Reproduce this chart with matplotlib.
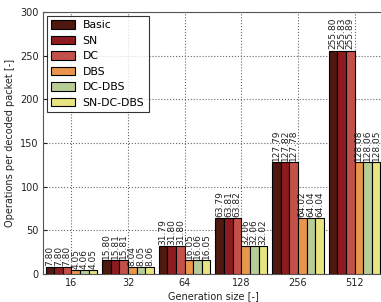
import matplotlib
matplotlib.use("Agg")
import matplotlib.pyplot as plt
import numpy as np

categories = ["16", "32", "64", "128", "256", "512"]
series = ["Basic", "SN", "DC", "DBS", "DC-DBS", "SN-DC-DBS"]
basic = [7.80, 15.80, 31.79, 63.79, 127.79, 255.80]
sn = [7.80, 15.81, 31.80, 63.81, 127.82, 255.83]
dc = [7.80, 15.81, 31.80, 63.82, 127.78, 255.89]
dbs = [4.05, 8.04, 16.05, 32.06, 64.02, 128.08]
dcdbs = [4.06, 8.05, 16.06, 32.06, 64.04, 128.06]
sndcdbs = [4.05, 8.06, 16.05, 32.02, 64.04, 128.05]
values = [basic, sn, dc, dbs, dcdbs, sndcdbs]
colors = ["#4f1810", "#8e1b1f", "#c4504a", "#e8964b", "#b6cd98", "#e8e481"]

fig = plt.figure(figsize=(3.81, 3.02), dpi=100)
ax = fig.add_axes([0.113, 0.093, 0.892, 0.867])

x = np.arange(len(categories))
w = 0.152
for i, (name, vals, c) in enumerate(zip(series, values, colors)):
    pos = x + (i - 2.5) * w
    ax.bar(pos, vals, w, color=c, edgecolor="black", linewidth=0.8, label=name, zorder=3)
    for p, v in zip(pos, vals):
        ax.text(p, v + 1.5, f"{v:.2f}", rotation=90, ha="center", va="bottom",
                fontsize=6.5, color="#222222", zorder=4)

ax.set_xlim(-0.5, 5.5)
ax.set_ylim(0, 300)
ax.set_yticks(range(0, 301, 50))
ax.set_xticks(x)
ax.set_xticklabels(categories)
ax.tick_params(direction="in", labelsize=7, length=3, colors="#222222", pad=3)
ax.tick_params(axis="x", length=0)
ax.grid(True, linestyle=":", color="#666666", linewidth=0.8, zorder=0)
ax.set_axisbelow(True)
ax.set_xlabel("Generation size [-]", fontsize=7, color="#222222", labelpad=2)
ax.set_ylabel("Operations per decoded packet [-]", fontsize=7, color="#222222", labelpad=4)
for s in ax.spines.values():
    s.set_color("#555555")

leg = ax.legend(loc="upper left", fontsize=7.8, frameon=True, fancybox=False,
                edgecolor="black", handlelength=2.2, handleheight=0.85,
                borderaxespad=0.35, labelspacing=0.5, handletextpad=0.7)
leg.get_frame().set_linewidth(0.8)

fig.savefig("out.png", dpi=100)
